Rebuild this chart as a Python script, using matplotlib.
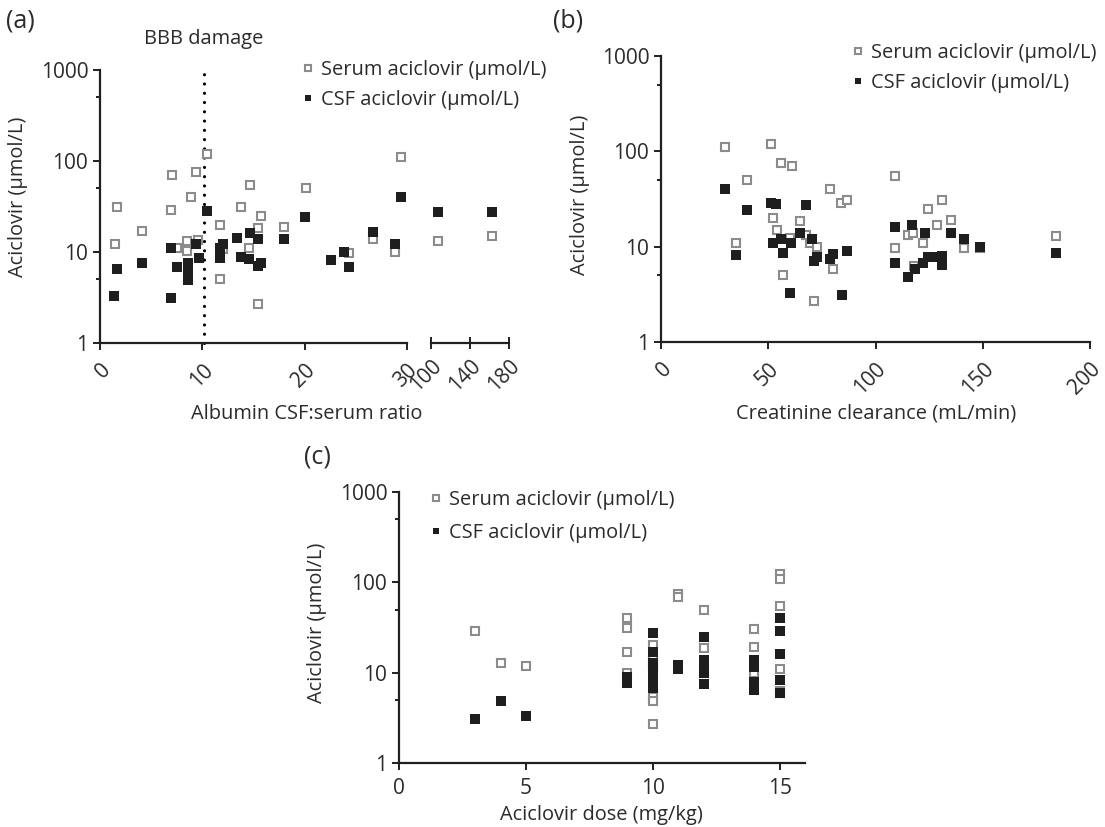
import matplotlib
matplotlib.use("Agg")
import matplotlib.pyplot as plt
from matplotlib.ticker import FixedLocator, NullFormatter

plt.rcParams['font.family'] = ['Open Sans', 'DejaVu Sans']

# ---------------- data ----------------
# Panel (a): albumin CSF:serum ratio (left segment 0-30, right segment 100-180)
a_serum_x = [1.5, 1.7, 4.1, 7.0, 6.9, 7.5, 8.9, 9.35, 8.5, 8.5, 9.6, 10.5, 11.7, 11.7, 12.0,
             13.8, 14.7, 14.6, 15.4, 15.7, 15.4, 18.0, 20.1, 24.3, 26.7, 28.8, 29.4]
a_serum_y = [12.2, 31, 17, 70, 29, 11, 40, 75, 13.3, 10.3, 13.5, 120, 20, 5.0, 10.9,
             31, 55, 11.1, 18.5, 25, 2.7, 19, 50, 9.7, 14, 9.9, 110]
a_csf_x = [1.4, 1.7, 4.1, 6.9, 6.9, 7.5, 8.6, 8.6, 8.6, 9.35, 9.7, 10.5, 11.7, 12.0, 11.7,
           13.4, 13.8, 14.6, 14.7, 15.4, 15.4, 15.7, 18.0, 20.0, 22.6, 23.8, 24.3, 26.7, 28.8, 29.4]
a_csf_y = [3.3, 6.5, 7.5, 11, 3.1, 6.8, 7.5, 6.1, 4.9, 12.2, 8.7, 28.5, 11, 12.2, 8.5,
           14.1, 8.9, 8.3, 16, 14, 7.1, 7.5, 14, 24, 8.2, 9.9, 6.8, 16.7, 12.2, 40]
a2_serum_x = [107.5, 162.9]
a2_serum_y = [13.1, 15.1]
a2_csf_x = [107.5, 162.9]
a2_csf_y = [27.3, 27.7]
bbb_threshold = 10.2

# Panel (b): creatinine clearance
b_serum_x = [29.9, 34.9, 40, 51.1, 52, 54, 56, 61, 57, 60.3, 65, 67.8, 69.5, 72.9, 71.2,
             79, 80.2, 84, 86.9, 108.9, 108.9, 115.1, 117.3, 118, 122, 124.6, 128.8, 131,
             135, 141.1, 148.9, 184.3]
b_serum_y = [110, 11, 50, 119, 20, 15, 75, 70, 5, 12.2, 18.6, 13.3, 10.8, 10, 2.7,
             40, 5.8, 29, 31, 55, 9.6, 13.2, 14, 6.3, 11, 25, 16.9, 31,
             18.9, 9.8, 9.8, 12.9]
b_csf_x = [29.9, 34.9, 40.2, 51.1, 53.8, 52, 56, 57, 60.8, 60, 65, 67.8, 70.4, 71.2, 72.9,
           79, 80.2, 86.9, 84.4, 108.9, 108.9, 115.1, 117, 118.6, 122, 122.9, 124.6, 128,
           131, 131, 135, 141.1, 148.9, 184.3]
b_csf_y = [40, 8.1, 24, 29, 28, 10.8, 11.9, 8.5, 10.8, 3.3, 13.8, 27.2, 11.9, 7.1, 7.8,
           7.5, 8.3, 9, 3.1, 16, 6.7, 4.8, 16.8, 5.9, 6.7, 13.8, 7.7, 7.7,
           8, 6.5, 13.8, 11.9, 10, 8.5]

# Panel (c): aciclovir dose
c_serum_x = [3, 4, 5, 9, 9, 9, 9, 10, 10, 10, 10, 10, 10, 10, 11, 11, 12, 12, 12, 12,
             14, 14, 14, 15, 15, 15, 15, 15, 15]
c_serum_y = [29, 12.9, 12, 40, 31, 17, 10, 20.3, 13.8, 12.7, 10.9, 5.4, 4.9, 2.7, 74, 69,
             49, 25, 18.6, 10.9, 30.6, 19, 9.8, 123, 108, 54.6, 10.9, 6.2, 5.9]
c_csf_x = [3, 4, 5, 9, 9, 10, 10, 10, 10, 10, 10, 10, 11, 11, 12, 12, 12, 12, 12,
           14, 14, 14, 14, 15, 15, 15, 15, 15]
c_csf_y = [3.06, 4.8, 3.3, 9.0, 7.6, 27.2, 16.8, 12.7, 10.9, 9.0, 7.6, 6.7, 12.2, 10.9,
           24.6, 13.8, 11.7, 9.8, 7.4, 13.8, 11.7, 7.9, 6.4, 40, 29, 16.1, 8.3, 6.0]

serum_label = "Serum aciclovir (\u03bcmol/L)"
csf_label = "CSF aciclovir (\u03bcmol/L)"
ylabel = "Aciclovir (\u03bcmol/L)"
y_ticks = [1, 10, 100, 1000]
y_minor = [5, 50, 500]

# ---------------- style ----------------
W, H = 1105, 827
TXT = '#2b2b2b'
AX = '#231f20'
GREY = '#8c8c8c'
BLACK = '#1e1e1e'
FS = 14.4
TFS = 15

fig = plt.figure(figsize=(W / 100, H / 100), dpi=100)


def px_axes(left, top, right, bottom):
    return fig.add_axes([left / W, 1 - bottom / H, (right - left) / W, (bottom - top) / H])


def ftext(x, y, s, **kw):
    kw.setdefault('fontsize', FS)
    kw.setdefault('color', TXT)
    kw.setdefault('ha', 'center')
    kw.setdefault('va', 'center')
    fig.text(x / W, 1 - y / H, s, **kw)


def style(ax, left_visible=True):
    for s in ['top', 'right']:
        ax.spines[s].set_visible(False)
    ax.spines['bottom'].set_color(AX)
    ax.spines['bottom'].set_linewidth(1.6)
    ax.spines['left'].set_color(AX)
    ax.spines['left'].set_linewidth(1.6)
    ax.set_yscale('log')
    ax.set_ylim(1, 1000)
    ax.tick_params(axis='both', colors=AX, labelcolor=TXT, labelsize=TFS, width=1.4, length=5)
    ax.tick_params(axis='y', which='minor', length=3, width=1.4, colors=AX)
    if left_visible:
        ax.yaxis.set_major_locator(FixedLocator(y_ticks))
        ax.yaxis.set_minor_locator(FixedLocator(y_minor))
        ax.yaxis.set_minor_formatter(NullFormatter())
        ax.set_yticklabels([str(t) for t in y_ticks])
    else:
        ax.spines['left'].set_visible(False)
        ax.yaxis.set_major_locator(FixedLocator([]))
        ax.yaxis.set_minor_locator(FixedLocator([]))
    ax.patch.set_alpha(0)


def scatter(ax, xs, ys, xc, yc):
    h1, = ax.plot(xs, ys, linestyle='none', marker='s', ms=5.6, mfc='white', mec=GREY, mew=1.5,
                  label=serum_label, clip_on=False, zorder=3)
    h2, = ax.plot(xc, yc, linestyle='none', marker='s', ms=6.6, mfc=BLACK, mec=BLACK, mew=0,
                  label=csf_label, clip_on=False, zorder=4)
    return h1, h2


def legend(handles, x0, top, spacing):
    fig.legend(handles=handles, loc='upper left', bbox_to_anchor=(x0 / W, 1 - top / H),
               frameon=False, fontsize=FS, labelcolor=TXT, borderpad=0, borderaxespad=0,
               handlelength=0.75, handletextpad=0.3, labelspacing=spacing, markerscale=0.75)


# ---------------- panel (a) ----------------
axa = px_axes(100, 70, 407, 343)
style(axa)
axa.set_xlim(0, 30)
axa.set_xticks([0, 10, 20, 30])
axa.set_xticklabels(['0', '10', '20', '30'], rotation=45, ha='right', rotation_mode='anchor')
axa.tick_params(axis='x', pad=7)
ha1, ha2 = scatter(axa, a_serum_x, a_serum_y, a_csf_x, a_csf_y)
axa.plot([bbb_threshold, bbb_threshold], [1, 1000], color='black', lw=2.3,
         linestyle=(0, (0.001, 2.9)), dash_capstyle='round', clip_on=False, zorder=2)

axa2 = px_axes(431, 70, 509, 343)
style(axa2, left_visible=False)
axa2.set_xlim(100, 180)
axa2.set_xticks([100, 140, 180])
axa2.set_xticklabels(['100', '140', '180'], rotation=45, ha='right', rotation_mode='anchor')
axa2.tick_params(axis='x', direction='inout', length=8, pad=5)
scatter(axa2, a2_serum_x, a2_serum_y, a2_csf_x, a2_csf_y)

ftext(18, 197, ylabel, rotation=90)
ftext(204, 39, 'BBB damage')
ftext(307, 414, 'Albumin CSF:serum ratio')
ftext(6, 21, '(a)', ha='left', fontsize=18)
legend([ha1, ha2], 300, 60, 0.5)

# ---------------- panel (b) ----------------
axb = px_axes(661, 56, 1090, 342)
style(axb)
axb.set_xlim(0, 200)
axb.set_xticks([0, 50, 100, 150, 200])
axb.set_xticklabels(['0', '50', '100', '150', '200'], rotation=45, ha='right',
                    rotation_mode='anchor')
axb.tick_params(axis='x', pad=7)
hb1, hb2 = scatter(axb, b_serum_x, b_serum_y, b_csf_x, b_csf_y)
ftext(580, 195, ylabel, rotation=90)
ftext(876, 414, 'Creatinine clearance (mL/min)')
ftext(553, 21, '(b)', ha='left', fontsize=18)
legend([hb1, hb2], 850, 43, 0.5)

# ---------------- panel (c) ----------------
axc = px_axes(399, 492, 805, 763)
style(axc)
axc.set_xlim(0, 16)
axc.set_xticks([0, 5, 10, 15])
axc.tick_params(axis='x', pad=6)
hc1, hc2 = scatter(axc, c_serum_x, c_serum_y, c_csf_x, c_csf_y)
ftext(317, 623, ylabel, rotation=90)
ftext(601, 815, 'Aciclovir dose (mg/kg)')
ftext(304, 457, '(c)', ha='left', fontsize=18)
legend([hc1, hc2], 428, 490, 0.66)

fig.savefig('out.png', dpi=100)
